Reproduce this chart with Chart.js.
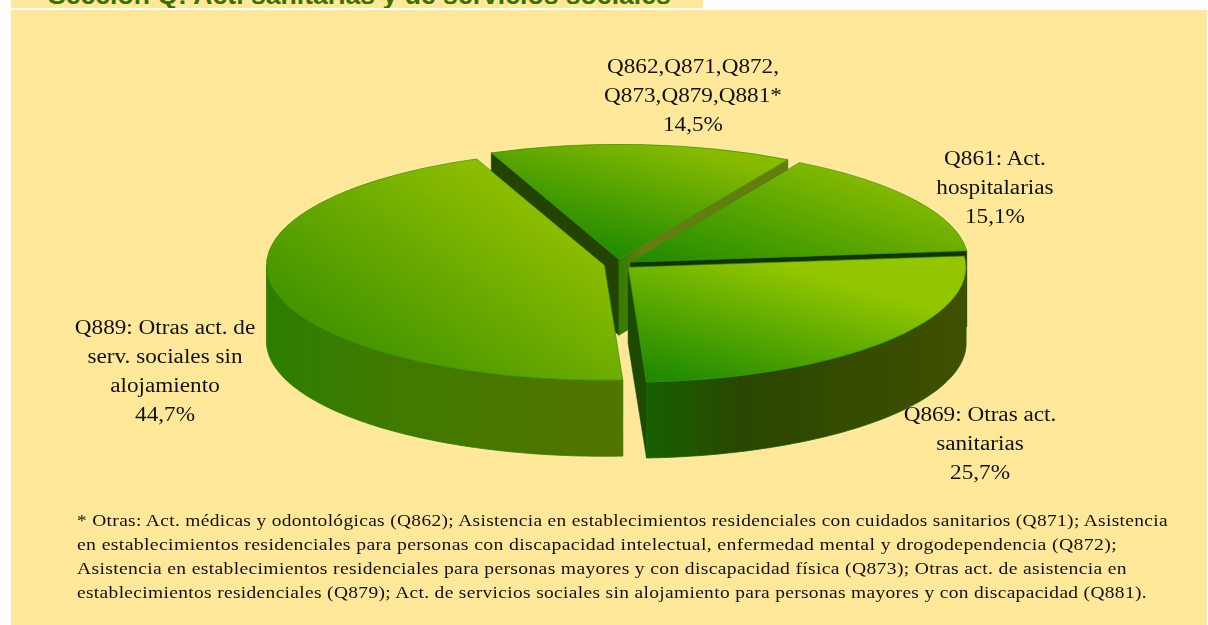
<!DOCTYPE html>
<html><head><meta charset="utf-8">
<script src="https://cdn.jsdelivr.net/npm/chart.js@4/dist/chart.umd.min.js"></script>
<style>
html,body{margin:0;padding:0;background:#fff;width:1208px;height:625px;overflow:hidden}
#strip{position:absolute;left:11px;top:-10px;width:692px;height:18px;background:#FFE89A;overflow:hidden}
#title{position:absolute;left:37px;top:-10px;font:bold 26.6px "Liberation Sans";color:#3C6E00;white-space:nowrap}
#panel{position:absolute;left:11px;top:10px;width:1196px;height:615px;background:#FFE89A}
canvas{position:absolute;left:0;top:0}
.lab{position:absolute;text-align:center;font:20px/29px "Liberation Serif";color:#111;white-space:nowrap;transform:translateX(-50%) scaleX(1.16)}
#note{position:absolute;left:77px;top:508px;font:17.5px/24px "Liberation Serif";color:#111;white-space:nowrap}
#note span{display:inline-block;transform-origin:0 50%;letter-spacing:.3px}
</style></head><body>
<div id="strip"><div id="title">Sección Q: Act. sanitarias y de servicios sociales</div></div>
<div id="panel"></div>
<canvas id="c" width="1208" height="625"></canvas>
<div id="labels"></div>
<div id="note"></div>
<script>
const categories=["Q861: Act.\nhospitalarias","Q869: Otras act.\nsanitarias","Q889: Otras act. de\nserv. sociales sin\nalojamiento","Q862,Q871,Q872,\nQ873,Q879,Q881*"];
const values=[15.1,25.7,44.7,14.5];
const valueLabels=["15,1%","25,7%","44,7%","14,5%"];
const gaps=[10,8,18,14];
const shiftX=[0,0,0,-4];
const shiftY=[0,1.5,0,0];
const drawOrder=[3,0,2,1];
const wallLeft=["#1f6a00","#176000","#2c7e00","#3a7a00"];
const wallMid=["#2c4a00","#2a4600","#3e7a00","#2b4d00"];
const wallRight=["#2c4a00","#405000","#527400","#2b4d00"];
const radialWall=["#234400","#1f5000","#2a5a00","#234400"];
const radialWall2=["#143300","#1c4a00","#2a5a00","#647c10"];
const topBright=["#82b800","#93c600","#8abc00","#88bb00"];
const topDark=["#1e8a00","#1e8a00","#3f9200","#1f8a00"];
const gradFrom=[[0,0],[-.44,.53],[-.95,.47],[0,0]];
const gradTo=[[.7,-.7],[.2,-.24],[0,0],[.56,-.7]];
const labelPos=[[995,144],[980,400],[165,313],[693,52]];
const noteLines=[
"* Otras: Act. médicas y odontológicas (Q862); Asistencia en establecimientos residenciales con cuidados sanitarios (Q871); Asistencia",
"en establecimientos residenciales para personas con discapacidad intelectual, enfermedad mental y drogodependencia (Q872);",
"Asistencia en establecimientos residenciales para personas mayores y con discapacidad física (Q873); Otras act. de asistencia en",
"establecimientos residenciales (Q879); Act. de servicios sociales sin alojamiento para personas mayores y con discapacidad (Q881)."];
const noteWidths=[1091,1040,1050,1070];
const SQUASH=0.34, DEPTH=76;

const box=document.getElementById('labels');
categories.forEach((c,i)=>{const d=document.createElement('div');d.className='lab';
 d.style.left=labelPos[i][0]+'px';d.style.top=labelPos[i][1]+'px';
 d.innerHTML=(c+"\n"+valueLabels[i]).split("\n").join("<br>");box.appendChild(d);});
const note=document.getElementById('note');
noteLines.forEach((t,i)=>{const s=document.createElement('span');s.textContent=t;note.appendChild(s);note.appendChild(document.createElement('br'));
 s.style.transform='scaleX('+(noteWidths[i]/s.getBoundingClientRect().width)+')';});

const pie3d={id:'pie3d',beforeDatasetsDraw(chart){
 const ctx=chart.ctx,arcs=chart.getDatasetMeta(0).data;
 drawOrder.forEach(i=>{
  const a=arcs[i],cx=a.x,cy=a.y,R=a.outerRadius,s=a.startAngle,e=a.endAngle,mid=(s+e)/2;
  const ox=cx+Math.cos(mid)*gaps[i]+shiftX[i], oy=cy+Math.sin(mid)*gaps[i]*SQUASH+shiftY[i];
  const P=(t,r)=>[ox+Math.cos(t)*r, oy+Math.sin(t)*r*SQUASH];
  const radial=(t,col)=>{const p=P(t,R);
   let fill=col;
   if(i===3&&p[0]-ox>100){fill=ctx.createLinearGradient(ox,0,ox+22,0);fill.addColorStop(0,"#2f7d00");fill.addColorStop(1,col);}
   ctx.beginPath();ctx.moveTo(ox,oy);ctx.lineTo(p[0],p[1]);ctx.lineTo(p[0],p[1]+DEPTH);ctx.lineTo(ox,oy+DEPTH);ctx.closePath();ctx.fillStyle=fill;ctx.fill();ctx.strokeStyle=fill;ctx.lineWidth=.5;ctx.stroke();};
  if(Math.sin(s-Math.PI/2)>0) radial(s,radialWall[i]);
  if(Math.sin(e+Math.PI/2)>0) radial(e,radialWall2[i]);
  const t0=(s%(2*Math.PI)+2*Math.PI)%(2*Math.PI),t1=t0+(e-s);
  let from=Math.max(t0,0),to=Math.min(t1,Math.PI);
  if(t0>Math.PI){from=Math.max(t0,2*Math.PI);to=Math.min(t1,3*Math.PI);}
  if(to>from){
   const g=ctx.createLinearGradient(P(to,R)[0],0,P(from,R)[0],0);
   g.addColorStop(0,wallLeft[i]);g.addColorStop(.3,wallMid[i]);g.addColorStop(1,wallRight[i]);
   ctx.beginPath();
   for(let k=0;k<=60;k++){const t=from+(to-from)*k/60,p=P(t,R);k?ctx.lineTo(p[0],p[1]):ctx.moveTo(p[0],p[1]);}
   for(let k=60;k>=0;k--){const t=from+(to-from)*k/60,p=P(t,R);ctx.lineTo(p[0],p[1]+DEPTH);}
   ctx.closePath();ctx.fillStyle=g;ctx.fill();ctx.strokeStyle=wallLeft[i];ctx.lineWidth=.8;ctx.stroke();
  }
  ctx.save();
  ctx.translate(ox,oy);ctx.scale(1,SQUASH);ctx.translate(-cx,-cy);
  const gr=ctx.createLinearGradient(cx+gradFrom[i][0]*R,cy+gradFrom[i][1]*R,cx+gradTo[i][0]*R,cy+gradTo[i][1]*R);
  gr.addColorStop(0,topDark[i]);gr.addColorStop(1,topBright[i]);
  a.options.backgroundColor=gr;
  a.draw(ctx);
  ctx.restore();
 });
 return false;
}};
new Chart(document.getElementById('c'),{type:'pie',
 data:{labels:categories,datasets:[{data:values,backgroundColor:topBright,borderColor:'#2f8f00',borderWidth:1}]},
 options:{responsive:false,animation:false,rotation:30,radius:338,
  layout:{padding:{left:36,bottom:97}},
  plugins:{legend:{display:false},tooltip:{enabled:false}}},
 plugins:[pie3d]});
</script>
</body></html>
